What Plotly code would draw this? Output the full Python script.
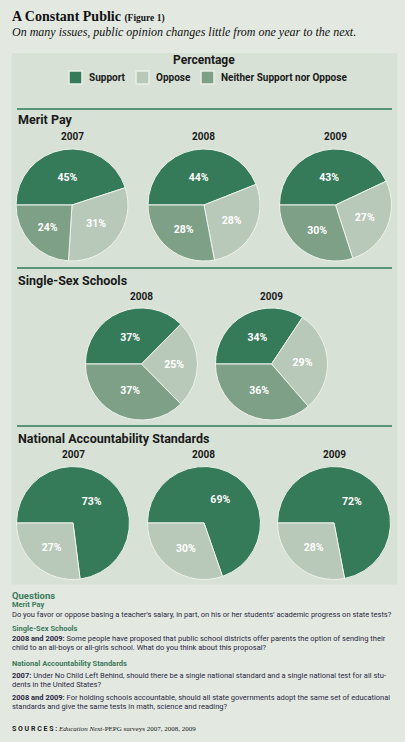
import plotly.graph_objects as go

# ---------------- data ----------------
categories = ["Support", "Oppose", "Neither Support nor Oppose"]

merit_years = ["2007", "2008", "2009"]
merit_support = [45, 44, 43]
merit_oppose = [31, 28, 27]
merit_neither = [24, 28, 30]

single_years = ["2008", "2009"]
single_support = [37, 34]
single_oppose = [25, 29]
single_neither = [37, 36]

nat_years = ["2007", "2008", "2009"]
nat_support = [73, 69, 72]
nat_oppose = [27, 30, 28]

# ---------------- style ----------------
W, H = 405, 742
C_SUP = "#357a59"
C_OPP = "#b8c9b9"
C_NEI = "#7ea086"
C_LINE = "#2f7a58"
BG = "#e3e9e1"
PANEL = "#d8e1d6"
SANS = "Roboto, 'DejaVu Sans', sans-serif"
SERIF = "'Liberation Serif', 'DejaVu Serif', serif"
COLORS = {"Support": C_SUP, "Oppose": C_OPP, "Neither Support nor Oppose": C_NEI}


def X(px):
    return px / W


def Y(py):
    return 1 - py / H


fig = go.Figure()
annotations = []
shapes = []

# panel
shapes.append(dict(type="rect", xref="paper", yref="paper",
                   x0=X(11), x1=X(398), y0=Y(585), y1=Y(52.5),
                   fillcolor=PANEL, line=dict(color="#e4ebe2", width=1), layer="below"))
# separator lines
for ly in [109, 268, 426]:
    shapes.append(dict(type="line", xref="paper", yref="paper",
                       x0=X(17), x1=X(392), y0=Y(ly), y1=Y(ly),
                       line=dict(color=C_LINE, width=1.5)))

# legend (swatch + label for each category)
legend_x = [69, 136, 201]
for lx, cat in zip(legend_x, categories):
    shapes.append(dict(type="rect", xref="paper", yref="paper",
                       x0=X(lx), x1=X(lx + 13), y0=Y(84), y1=Y(71),
                       fillcolor=COLORS[cat], line=dict(color="#e9efe7", width=1.5)))
    annotations.append(dict(xref="paper", yref="paper", x=X(lx + 18), y=Y(77.5),
                            text="<b>%s</b>" % cat, showarrow=False,
                            xanchor="left", yanchor="middle",
                            font=dict(family=SANS, size=10, color="#1a1a1a")))


def add_pie(cx, cy, r, labels, values, year):
    fig.add_trace(go.Pie(
        labels=labels, values=values,
        marker=dict(colors=[COLORS[l] for l in labels], line=dict(color="#eef3ec", width=1)),
        sort=False, direction="clockwise", rotation=270,
        textposition="inside", insidetextorientation="horizontal",
        texttemplate="<b>%{value}%</b>",
        textfont=dict(family=SANS, size=10.5, color="white"),
        hoverinfo="label+value",
        domain=dict(x=[X(cx - r), X(cx + r)], y=[Y(cy + r), Y(cy - r)]),
        showlegend=False,
    ))
    annotations.append(dict(xref="paper", yref="paper", x=X(cx), y=Y(cy - r - 12),
                            text="<b>%s</b>" % year, showarrow=False,
                            xanchor="center", yanchor="middle",
                            font=dict(family=SANS, size=10, color="#1a1a1a")))


# Merit Pay
merit_cx = [72, 204, 335.5]
for i, yr in enumerate(merit_years):
    add_pie(merit_cx[i], 205, 56, categories,
            [merit_support[i], merit_oppose[i], merit_neither[i]], yr)

# Single-Sex Schools
single_cx = [141.5, 271.5]
for i, yr in enumerate(single_years):
    add_pie(single_cx[i], 364, 56, categories,
            [single_support[i], single_oppose[i], single_neither[i]], yr)

# National Accountability Standards
nat_cx = [73, 204, 334]
for i, yr in enumerate(nat_years):
    add_pie(nat_cx[i], 523, 56.5, categories[:2],
            [nat_support[i], nat_oppose[i]], yr)

# section headers
for txt, yy in [("Merit Pay", 120), ("Single-Sex Schools", 280), ("National Accountability Standards", 438)]:
    annotations.append(dict(xref="paper", yref="paper", x=X(16), y=Y(yy),
                            text="<b>%s</b>" % txt, showarrow=False,
                            xanchor="left", yanchor="middle",
                            font=dict(family=SANS, size=12.5, color="#1a1a1a")))

# title / subtitle
annotations.append(dict(xref="paper", yref="paper", x=X(10), y=Y(16.5),
                        text="<b>A Constant Public</b> <span style='font-size:9.5px'><b>(Figure 1)</b></span>",
                        showarrow=False, xanchor="left", yanchor="middle",
                        font=dict(family=SERIF, size=14, color="#111111")))
annotations.append(dict(xref="paper", yref="paper", x=X(10), y=Y(31.5),
                        text="<i>On many issues, public opinion changes little from one year to the next.</i>",
                        showarrow=False, xanchor="left", yanchor="middle",
                        font=dict(family=SERIF, size=12, color="#111111")))
annotations.append(dict(xref="paper", yref="paper", x=X(204), y=Y(60),
                        text="<b>Percentage</b>", showarrow=False,
                        xanchor="center", yanchor="middle",
                        font=dict(family=SANS, size=12, color="#1a1a1a")))

# questions
GREEN_T = "#3b7a5b"
BODY = "#2a2745"
q_lines = [
    (595, "<b>Questions</b>", 9.5, GREEN_T),
    (604.5, "<b>Merit Pay</b>", 7.5, GREEN_T),
    (614.5, "Do you favor or oppose basing a teacher\u2019s salary, in part, on his or her students\u2019 academic progress on state tests?", 7.5, BODY),
    (628, "<b>Single-Sex Schools</b>", 7.5, GREEN_T),
    (638, "<b>2008 and 2009:</b> Some people have proposed that public school districts offer parents the option of sending their", 7.5, BODY),
    (647.5, "child to an all-boys or all-girls school. What do you think about this proposal?", 7.5, BODY),
    (663, "<b>National Accountability Standards</b>", 7.5, GREEN_T),
    (675, "<b>2007:</b> Under No Child Left Behind, should there be a single national standard and a single national test for all stu-", 7.5, BODY),
    (684, "dents in the United States?", 7.5, BODY),
    (697, "<b>2008 and 2009:</b> For holding schools accountable, should all state governments adopt the same set of educational", 7.5, BODY),
    (706.5, "standards and give the same tests in math, science and reading?", 7.5, BODY),
]
for yy, txt, sz, col in q_lines:
    annotations.append(dict(xref="paper", yref="paper", x=X(10), y=Y(yy),
                            text=txt, showarrow=False, xanchor="left", yanchor="middle",
                            font=dict(family=SANS, size=sz, color=col)))
annotations.append(dict(xref="paper", yref="paper", x=X(10), y=Y(729),
                        text="<b>S O U R C E S :</b> <span style=\"font-family:'Liberation Serif', serif\"><i>Education Next</i>-PEPG surveys 2007, 2008, 2009</span>",
                        showarrow=False, xanchor="left", yanchor="middle",
                        font=dict(family=SANS, size=7, color="#1a1a1a")))

fig.update_layout(
    width=W, height=H,
    margin=dict(l=0, r=0, t=0, b=0),
    paper_bgcolor=BG, plot_bgcolor=BG,
    annotations=annotations, shapes=shapes,
    showlegend=False,
    font=dict(family=SANS),
)

fig.write_html("out.html", config={"displayModeBar": False},
               post_script="document.body.style.margin='0px';document.body.style.overflow='hidden';")
